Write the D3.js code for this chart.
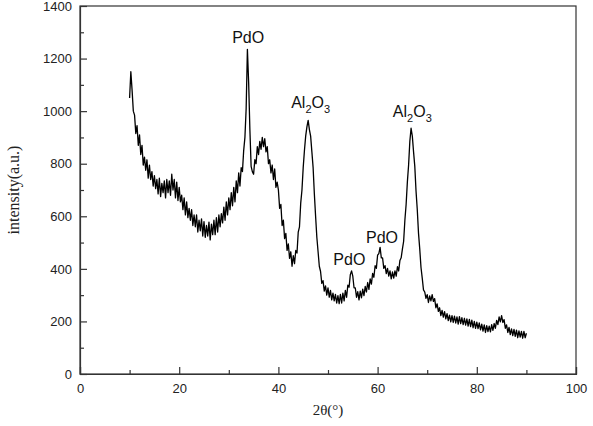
<!DOCTYPE html>
<meta charset="utf-8" />
<style>
  body { margin: 0; background: #fff; }
  svg { display: block; }
  .axis text { font-family: "Liberation Sans", Arial, sans-serif; font-size: 13px; fill: #222; }
  .axis path, .axis line { stroke: #333; stroke-width: 1.2; }
</style>
<body>
<div id="chart"></div>
<script src="https://cdn.jsdelivr.net/npm/d3@7"></script>
<script>
  // XRD pattern, 2θ from 10° to 90° in steps of 0.25°
  const thetaStart = 10;
  const thetaStep = 0.25;
  const intensity = [
    1050, 1150, 1080, 1000, 985, 915, 945, 870, 910, 835, 870, 795, 825, 775, 815, 745, 795, 740, 770, 715,
    755, 705, 740, 685, 745, 675, 725, 690, 735, 670, 740, 690, 735, 680, 760, 700, 740, 670, 730, 660,
    710, 655, 680, 625, 670, 605, 655, 595, 630, 585, 625, 565, 605, 560, 605, 540, 585, 545, 590, 525,
    580, 520, 565, 525, 578, 510, 570, 530, 585, 530, 595, 540, 605, 560, 610, 575, 635, 585, 655, 605,
    670, 625, 690, 640, 710, 655, 735, 690, 765, 715, 785, 770, 850, 900, 1010, 1235, 1110, 930, 790, 770,
    760, 815, 800, 865, 835, 885, 855, 900, 865, 895, 845, 865, 800, 815, 765, 795, 740, 780, 710, 730,
    700, 630, 645, 565, 585, 515, 535, 470, 495, 440, 465, 410, 450, 420, 470, 460, 540, 560, 650, 700,
    785, 850, 905, 940, 965, 930, 905, 845, 785, 685, 600, 520, 465, 410, 390, 345, 355, 315, 335, 300,
    328, 292, 318, 282, 308, 278, 303, 270, 298, 268, 303, 270, 308, 278, 318, 292, 338, 330, 378, 392,
    372, 328, 328, 292, 313, 282, 315, 290, 323, 298, 333, 312, 348, 322, 362, 342, 383, 368, 412, 402,
    452, 458, 482, 442, 442, 402, 412, 382, 402, 372, 392, 362, 388, 365, 392, 372, 408, 392, 432, 442,
    475, 505, 585, 645, 730, 795, 885, 935, 905, 845, 790, 695, 625, 535, 475, 405, 365, 320, 312, 288,
    302, 272, 297, 278, 302, 276, 287, 252, 267, 238, 252, 222, 242, 216, 237, 210, 230, 203, 224, 198,
    222, 196, 220, 194, 217, 190, 218, 192, 214, 188, 212, 186, 210, 182, 208, 180, 205, 176, 200, 174,
    197, 173, 194, 168, 190, 163, 187, 158, 184, 161, 182, 160, 188, 166, 192, 174, 204, 188, 217, 198,
    222, 196, 207, 174, 187, 158, 177, 150, 172, 146, 170, 143, 167, 138, 164, 140, 162, 136, 162, 138,
    155
  ];
  const xTicks = [0, 20, 40, 60, 80, 100];
  const xMinorTicks = [10, 30, 50, 70, 90];
  const yTicks = [0, 200, 400, 600, 800, 1000, 1200, 1400];
  const yMinorTicks = [100, 300, 500, 700, 900, 1100, 1300];
  // peak labels: name, 2θ of the label centre, intensity of the label baseline
  const peakNames = ["PdO", "Al2O3", "PdO", "PdO", "Al2O3"];
  const peakTheta = [33.9, 46.5, 54.3, 60.9, 67.0];
  const peakLabelAt = [1259, 1013, 413, 497, 979];

  const data = intensity.map((v, i) => ({ t: thetaStart + i * thetaStep, v: v }));

  const width = 593, height = 426;
  const margin = { top: 6, right: 17, bottom: 52, left: 80 };

  const svg = d3.select("#chart").append("svg").attr("width", width).attr("height", height);

  const x = d3.scaleLinear().domain([0, 100]).range([margin.left, width - margin.right]);
  const y = d3.scaleLinear().domain([0, 1400]).range([height - margin.bottom, margin.top]);

  // frame
  svg.append("rect")
    .attr("x", x(0)).attr("y", y(1400))
    .attr("width", x(100) - x(0)).attr("height", y(0) - y(1400))
    .attr("fill", "none").attr("stroke", "#333").attr("stroke-width", 1.2);

  // trace
  svg.append("path")
    .datum(data)
    .attr("fill", "none")
    .attr("stroke", "#000")
    .attr("stroke-width", 1.3)
    .attr("stroke-linejoin", "round")
    .attr("d", d3.line().x((d) => x(d.t)).y((d) => y(d.v)));

  // axes with inward ticks
  svg.append("g").attr("class", "axis")
    .attr("transform", "translate(0," + y(0) + ")")
    .call(d3.axisBottom(x).tickValues(xTicks).tickSize(-7).tickPadding(10).tickFormat(d3.format("d")));
  svg.append("g").attr("class", "axis")
    .attr("transform", "translate(0," + y(0) + ")")
    .call(d3.axisBottom(x).tickValues(xMinorTicks).tickSize(-4).tickFormat(""))
    .call((g) => g.select(".domain").remove());

  svg.append("g").attr("class", "axis")
    .attr("transform", "translate(" + x(0) + ",0)")
    .call(d3.axisLeft(y).tickValues(yTicks).tickSize(-7).tickPadding(8).tickFormat(d3.format("d")));
  svg.append("g").attr("class", "axis")
    .attr("transform", "translate(" + x(0) + ",0)")
    .call(d3.axisLeft(y).tickValues(yMinorTicks).tickSize(-4).tickFormat(""))
    .call((g) => g.select(".domain").remove());

  // peak labels
  peakNames.forEach((name, i) => {
    const t = svg.append("text")
      .attr("x", x(peakTheta[i]))
      .attr("y", y(peakLabelAt[i]))
      .attr("text-anchor", "middle")
      .attr("font-family", "Liberation Sans, Arial, sans-serif")
      .attr("font-size", "16px")
      .attr("fill", "#111");
    if (name === "Al2O3") {
      t.append("tspan").text("Al");
      t.append("tspan").attr("font-size", "11px").attr("dy", 5).text("2");
      t.append("tspan").attr("dy", -5).text("O");
      t.append("tspan").attr("font-size", "11px").attr("dy", 5).text("3");
    } else {
      t.text(name);
    }
  });

  // axis titles
  svg.append("text")
    .attr("x", x(50))
    .attr("y", 415)
    .attr("text-anchor", "middle")
    .attr("font-family", "Liberation Serif, Times New Roman, serif")
    .attr("font-size", "15px")
    .attr("fill", "#222")
    .text("2θ(°)");

  svg.append("text")
    .attr("transform", "translate(19," + y(700) + ") rotate(-90)")
    .attr("text-anchor", "middle")
    .attr("font-family", "Liberation Serif, Times New Roman, serif")
    .attr("font-size", "16px")
    .attr("fill", "#222")
    .text("intensity(a.u.)");
</script>
</body>
